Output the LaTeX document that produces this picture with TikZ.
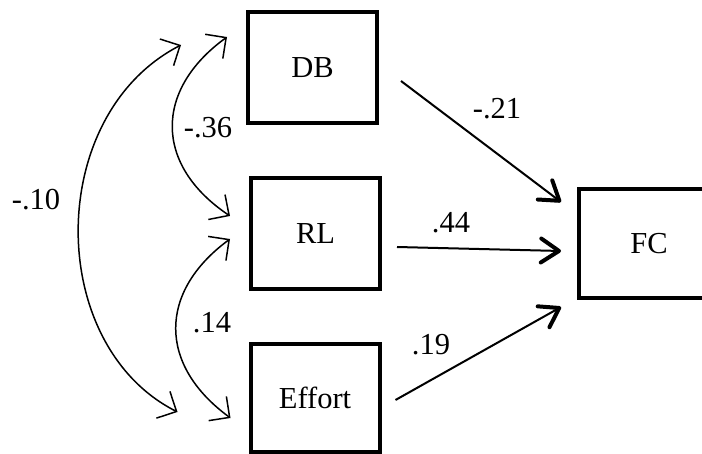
\documentclass[tikz,border=0pt]{standalone}
\usepackage{fontspec}
\setmainfont{Liberation Serif}
\usetikzlibrary{arrows.meta}
\begin{document}
\begin{tikzpicture}[x=1pt,y=-1pt,
  box/.style={draw,line width=4pt,minimum width=129pt,minimum height=111pt,inner sep=0pt,
    font=\fontsize{30.5}{36}\selectfont},
  lbl/.style={inner sep=0pt,font=\fontsize{30.5}{36}\selectfont},
  path/.style={line width=2pt,-{Straight Barb[length=18pt,width=24pt,line width=4pt,round]}},
  cov/.style={line width=1.5pt,{Straight Barb[length=15pt,width=30pt,line width=1.5pt]}-{Straight Barb[length=15pt,width=30pt,line width=1.5pt]}}]
\useasboundingbox (0,0) rectangle (702,454);
\clip (0,0) rectangle (702,454);
\node[box] (DB) at (312.5,67.5) {DB};
\node[box] (RL) at (315.5,233.5) {RL};
\node[box,minimum height=108pt] (EF) at (315,398) {Effort};
\node[box,minimum width=140pt,minimum height=109pt] (FC) at (649,243.5) {FC};
% paths
\draw[path] ([shift={(22,13.5)}]DB.east) -- ([shift={(-16,15)}]FC.north west);
\draw[path] ([shift={(15,13.5)}]RL.east) -- ([shift={(-16,7.5)}]FC.west);
\draw[path] ([shift={(14,2)}]EF.east) -- ([shift={(-16,7)}]FC.south west);
% covariances
\draw[cov] ([shift={(-65,-22.5)}]DB.west) .. controls (45,115) and (45,345) .. ([shift={(-71,14)}]EF.west);
\draw[cov] ([shift={(-19,-30.5)}]DB.west) .. controls (154,90) and (154,165) .. ([shift={(-19,-17.5)}]RL.west);
\draw[cov] ([shift={(-19,5.5)}]RL.west) .. controls (158,292) and (158,365) .. ([shift={(-18,20)}]EF.west);
% labels
\node[lbl] (l1) at (497,109) {-.21};
\node[lbl] (l2) at (451,223) {.44};
\node[lbl] (l3) at (431,345) {.19};
\node[lbl] (l4) at (208,128) {-.36};
\node[lbl] (l5) at (36,200) {-.10};
\node[lbl] (l6) at (212,323) {.14};
\end{tikzpicture}
\end{document}
